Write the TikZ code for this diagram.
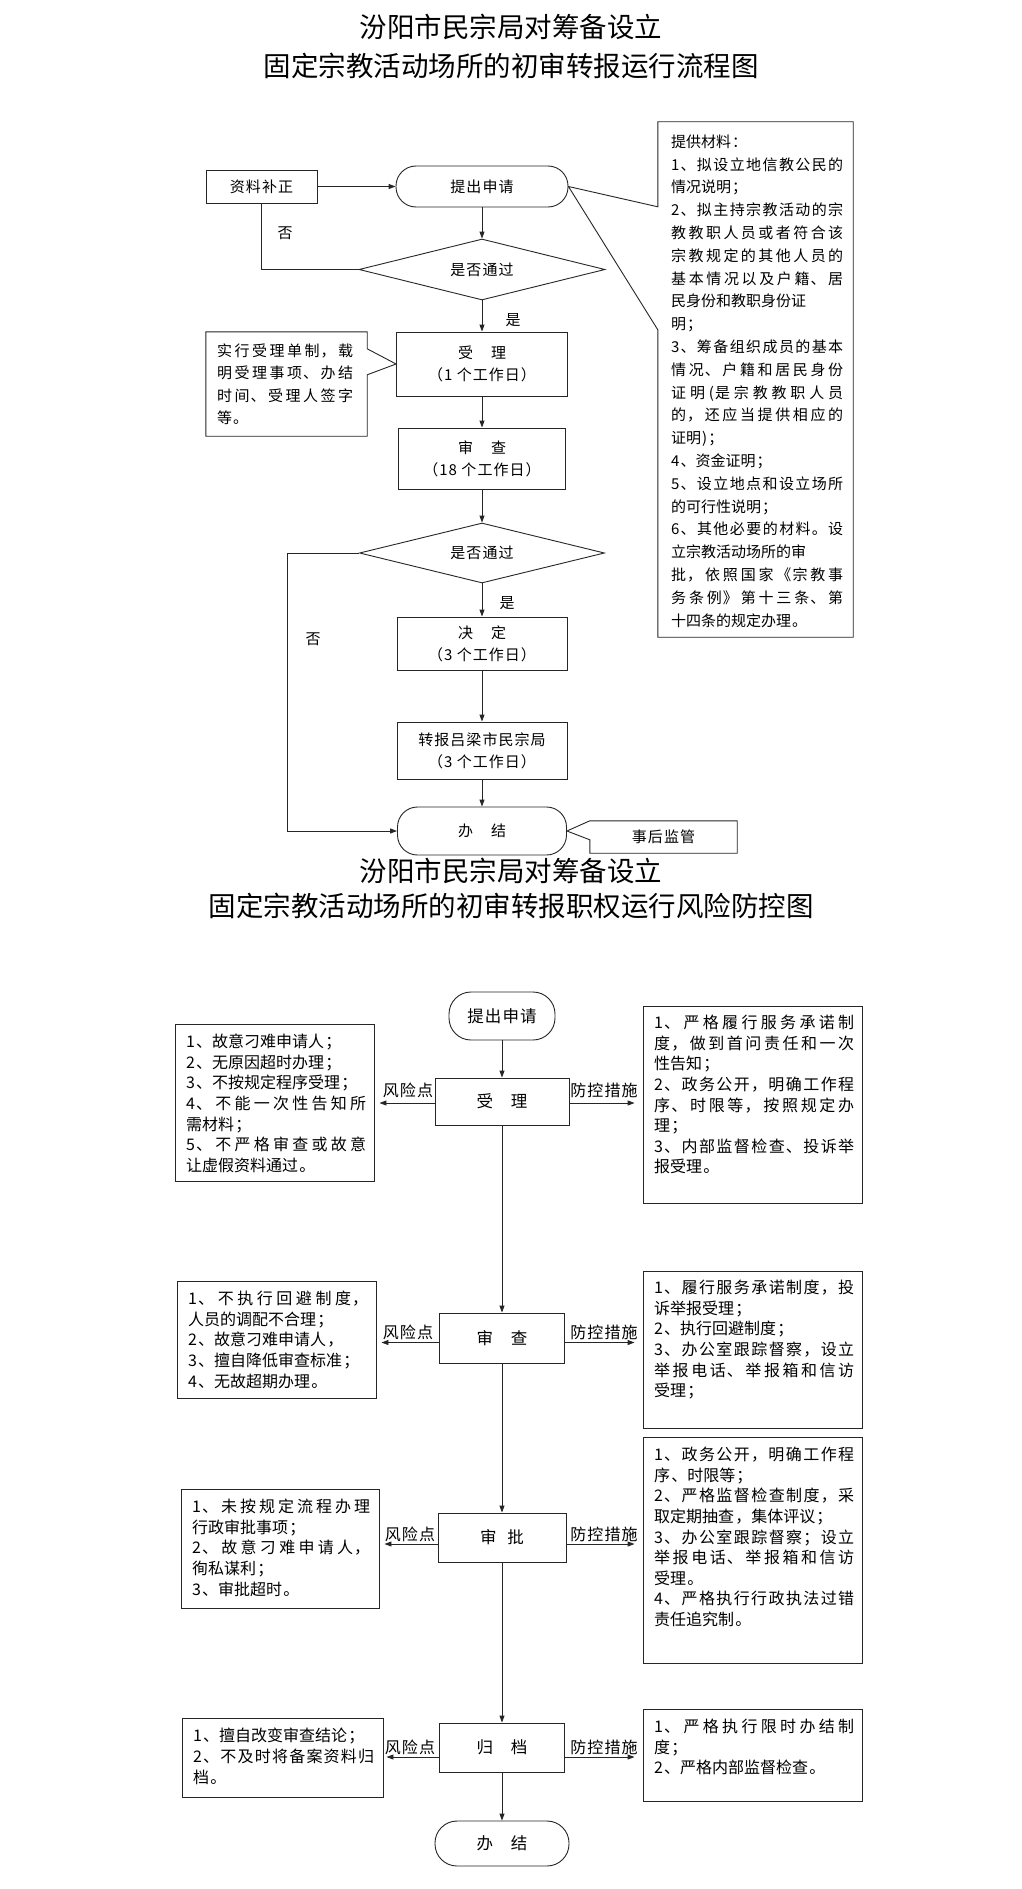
\documentclass[tikz,border=0pt]{standalone}
\usepackage{fontspec}
\setmainfont{Noto Sans CJK SC}
\newfontfamily\cjk[LetterSpace=7]{Noto Sans CJK SC}
\usetikzlibrary{arrows.meta,shapes.geometric,calc}
\XeTeXlinebreaklocale "zh"
\XeTeXlinebreakskip=0pt plus 1pt
\tolerance=10000
\hbadness=10000
\hfuzz=30pt
\setlength\parindent{0pt}
\setlength\parskip{0pt}
\newcommand\gap{\hspace{18pt}}
\tikzset{
 ln/.style={draw=black!85, line width=0.9pt},
 arr/.style={ln, -{Triangle[length=7pt,width=5pt]}},
 bx/.style={draw=black!85, line width=0.9pt, inner sep=0pt, align=center},
 rbx/.style={bx, rounded corners=20pt},
 sh/.style={inner sep=0pt},
 ta/.style={font=\cjk\fontsize{15}{22}\selectfont},
 tb/.style={font=\cjk\fontsize{16.5}{20}\selectfont},
 pa/.style={inner sep=0pt, anchor=north west, align=justify, font=\cjk\fontsize{15}{22.8}\selectfont},
 pn/.style={inner sep=0pt, anchor=north west, align=justify, font=\cjk\fontsize{15}{22.5}\selectfont},
 pb/.style={inner sep=0pt, anchor=north west, align=justify, font=\cjk\fontsize{16}{20.6}\selectfont},
 ttl/.style={font=\fontsize{27.5}{30}\selectfont, inner sep=0pt},
 lbl/.style={font=\cjk\fontsize{15}{18}\selectfont, inner sep=0pt},
 lbb/.style={font=\cjk\fontsize{16}{18}\selectfont, inner sep=0pt, anchor=south},
}
\begin{document}
\begin{tikzpicture}[x=1pt,y=-1pt]
\useasboundingbox (0,0) rectangle (1022,1889);
\fill[white] (0,0) rectangle (1022,1889);

% ---------- titles ----------
\node[ttl] (t1) at (511,27) {汾阳市民宗局对筹备设立};
\node[ttl] (t2) at (511,66) {固定宗教活动场所的初审转报运行流程图};
\node[ttl] (t3) at (511,871) {汾阳市民宗局对筹备设立};
\node[ttl] (t4) at (511,906) {固定宗教活动场所的初审转报职权运行风险防控图};

% ---------- chart 1 ----------
\node[bx, ta, minimum width=111pt, minimum height=33pt] (fix) at (261.5,186.5) {资料补正};
\node[rbx, ta, minimum width=172pt, minimum height=41pt] (apply1) at (482,186.5) {提出申请};
\node[draw=black!85, line width=0.9pt, diamond, aspect=4, inner sep=0pt, minimum width=246pt, minimum height=61pt, ta] (dia1) at (482,269.5) {是否通过};
\node[bx, ta, minimum width=171pt, minimum height=64pt] (acc1) at (482,364) {受\gap 理\\（1 个工作日）};
\node[bx, ta, minimum width=167pt, minimum height=61pt] (rev1) at (482,458.5) {审\gap 查\\（18 个工作日）};
\node[draw=black!85, line width=0.9pt, diamond, aspect=4, inner sep=0pt, minimum width=245pt, minimum height=60pt, ta] (dia2) at (482,553) {是否通过};
\node[bx, ta, minimum width=170pt, minimum height=53pt] (dec1) at (482,643.5) {决\gap 定\\（3 个工作日）};
\node[bx, ta, minimum width=170pt, minimum height=57pt] (rep1) at (482,750.5) {转报吕梁市民宗局\\（3 个工作日）};
\node[rbx, ta, minimum width=169pt, minimum height=48pt] (end1) at (482,831) {办\gap 结};

\draw[arr] (fix.east) -- (apply1.west);
\draw[arr] (apply1.south) -- (dia1.north);
\draw[ln] (dia1.west) -| (fix.south);
\draw[arr] (dia1.south) -- (acc1.north);
\draw[arr] (acc1.south) -- (rev1.north);
\draw[arr] (rev1.south) -- (dia2.north);
\draw[arr] (dia2.south) -- (dec1.north);
\draw[arr] (dec1.south) -- (rep1.north);
\draw[arr] (rep1.south) -- (end1.north);
\draw[arr] (dia2.west) -- ++(-72,0) |- (end1.west);

\node[lbl] (no1) at (285,233) {否};
\node[lbl] (yes1) at (513,320) {是};
\node[lbl] (yes2) at (507,603) {是};
\node[lbl] (no2) at (313,639) {否};

% callout: materials
\node[sh, minimum width=195pt, minimum height=515pt] (mat) at (755.5,379.5) {};
\draw[ln] (mat.north west) -- (mat.north east) -- (mat.south east) -- (mat.south west)
  -- ($(mat.north west)+(0,208)$) -- (apply1.east) -- ($(mat.north west)+(0,85)$) -- cycle;
\node[pa, text width=172pt] (matt) at (671,134.5) {提供材料：\par
1、拟设立地信教公民的\linebreak 情况说明；\par
2、拟主持宗教活动的宗\linebreak 教教职人员或者符合该\linebreak 宗教规定的其他人员的\linebreak 基本情况以及户籍、居\linebreak 民身份和教职身份证\hfil\break 明；\par
3、筹备组织成员的基本\linebreak 情况、户籍和居民身份\linebreak 证明(是宗教教职人员\linebreak 的，还应当提供相应的\linebreak 证明)；\par
4、资金证明；\par
5、设立地点和设立场所\linebreak 的可行性说明；\par
6、其他必要的材料。设\linebreak 立宗教活动场所的审\hfil\break 批，依照国家《宗教事\linebreak 务条例》第十三条、第\linebreak 十四条的规定办理。};

% callout: acceptance note
\node[sh, minimum width=161pt, minimum height=104pt] (note) at (286.5,384) {};
\draw[ln] (note.north west) -- (note.north east) -- ($(note.north east)+(0,17)$) -- (acc1.west)
  -- ($(note.north east)+(0,43)$) -- (note.south east) -- (note.south west) -- cycle;
\node[pn, text width=136pt] (notet) at (217,343.4) {实行受理单制，载\linebreak 明受理事项、办结\linebreak 时间、受理人签字\linebreak 等。};

% callout: post supervision
\node[sh, minimum width=147pt, minimum height=32pt, ta] (post) at (663.5,837) {事后监管};
\draw[ln] (post.north west) -- (end1.east) -- ($(post.north west)+(0,19)$) -- (post.south west)
  -- (post.south east) -- (post.north east) -- cycle;

% ---------- chart 2 ----------
\node[rbx, tb, rounded corners=22pt, minimum width=106pt, minimum height=48pt] (apply2) at (502,1016) {提出申请};
\node[bx, tb, minimum width=134pt, minimum height=47pt] (acc2) at (502,1101.5) {受\gap 理};
\node[bx, tb, minimum width=125pt, minimum height=50pt] (rev2) at (502,1338) {审\gap 查};
\node[bx, tb, minimum width=128pt, minimum height=49pt] (app2) at (502,1537.5) {审\hspace{11pt}批};
\node[bx, tb, minimum width=125pt, minimum height=49pt] (arc2) at (502,1747.5) {归\gap 档};
\node[rbx, tb, rounded corners=22pt, minimum width=134pt, minimum height=45pt] (end2) at (502,1843.5) {办\gap 结};

\draw[arr] (apply2.south) -- (acc2.north);
\draw[arr] (acc2.south) -- (rev2.north);
\draw[arr] (rev2.south) -- (app2.north);
\draw[arr] (app2.south) -- (arc2.north);
\draw[arr] (arc2.south) -- (end2.north);

% left boxes
\node[bx, minimum width=199pt, minimum height=157pt] (l1) at (274.5,1102.5) {};
\node[bx, minimum width=199pt, minimum height=117pt] (l2) at (276.5,1339.5) {};
\node[bx, minimum width=198pt, minimum height=119pt] (l3) at (280,1548.5) {};
\node[bx, minimum width=201pt, minimum height=79pt] (l4) at (282.5,1757.5) {};
% right boxes
\node[bx, minimum width=219pt, minimum height=197pt] (r1) at (752.5,1104.5) {};
\node[bx, minimum width=219pt, minimum height=157pt] (r2) at (752.5,1349.5) {};
\node[bx, minimum width=219pt, minimum height=226pt] (r3) at (752.5,1550) {};
\node[bx, minimum width=219pt, minimum height=92pt] (r4) at (752.5,1755) {};

\node[pb, text width=180pt] (l1t) at (186,1034) {1、故意刁难申请人；\par 2、无原因超时办理；\par 3、不按规定程序受理；\par 4、不能一次性告知所\linebreak 需材料；\par 5、不严格审查或故意\linebreak 让虚假资料通过。};
\node[pb, text width=180pt] (l2t) at (188,1291) {1、不执行回避制度，\linebreak 人员的调配不合理；\par 2、故意刁难申请人，\par 3、擅自降低审查标准；\par 4、无故超期办理。};
\node[pb, text width=178pt] (l3t) at (192,1499) {1、未按规定流程办理\linebreak 行政审批事项；\par 2、故意刁难申请人，\linebreak 徇私谋利；\par 3、审批超时。};
\node[pb, text width=181pt] (l4t) at (193,1728) {1、擅自改变审查结论；\par 2、不及时将备案资料归\linebreak 档。};

\node[pb, text width=200pt] (r1t) at (654,1015) {1、严格履行服务承诺制\linebreak 度，做到首问责任和一次\linebreak 性告知；\par 2、政务公开，明确工作程\linebreak 序、时限等，按照规定办\linebreak 理；\par 3、内部监督检查、投诉举\linebreak 报受理。};
\node[pb, text width=200pt] (r2t) at (654,1280) {1、履行服务承诺制度，投\linebreak 诉举报受理；\par 2、执行回避制度；\par 3、办公室跟踪督察，设立\linebreak 举报电话、举报箱和信访\linebreak 受理；};
\node[pb, text width=200pt] (r3t) at (654,1447) {1、政务公开，明确工作程\linebreak 序、时限等；\par 2、严格监督检查制度，采\linebreak 取定期抽查，集体评议；\par 3、办公室跟踪督察；设立\linebreak 举报电话、举报箱和信访\linebreak 受理。\par 4、严格执行行政执法过错\linebreak 责任追究制。};
\node[pb, text width=200pt] (r4t) at (654,1719) {1、严格执行限时办结制\linebreak 度；\par 2、严格内部监督检查。};

% side arrows
\draw[arr] ($(acc2.west)+(0,1.5)$) -- ($(l1.east |- acc2.west)+(5,1.5)$);
\draw[arr] ($(acc2.east)+(0,1.5)$) -- ($(r1.west |- acc2.east)+(-8,1.5)$);
\draw[arr] ($(rev2.west)+(0,4.5)$) -- ($(l2.east |- rev2.west)+(5,4.5)$);
\draw[arr] ($(rev2.east)+(0,4.5)$) -- ($(r2.west |- rev2.east)+(-8,4.5)$);
\draw[arr] ($(app2.west)+(0,6.5)$) -- ($(l3.east |- app2.west)+(5,6.5)$);
\draw[arr] ($(app2.east)+(0,6.5)$) -- ($(r3.west |- app2.east)+(-8,6.5)$);
\draw[arr] ($(arc2.west)+(0,9.5)$) -- ($(l4.east |- arc2.west)+(3,9.5)$);
\draw[arr] ($(arc2.east)+(0,9.5)$) -- ($(r4.west |- arc2.east)+(-8,9.5)$);

\node[lbb] (rk1) at (408,1098) {风险点};
\node[lbb] (pc1) at (604,1098) {防控措施};
\node[lbb] (rk2) at (408,1340) {风险点};
\node[lbb] (pc2) at (604,1340) {防控措施};
\node[lbb] (rk3) at (410,1542) {风险点};
\node[lbb] (pc3) at (604,1542) {防控措施};
\node[lbb] (rk4) at (410,1755) {风险点};
\node[lbb] (pc4) at (604,1755) {防控措施};
\end{tikzpicture}
\end{document}
